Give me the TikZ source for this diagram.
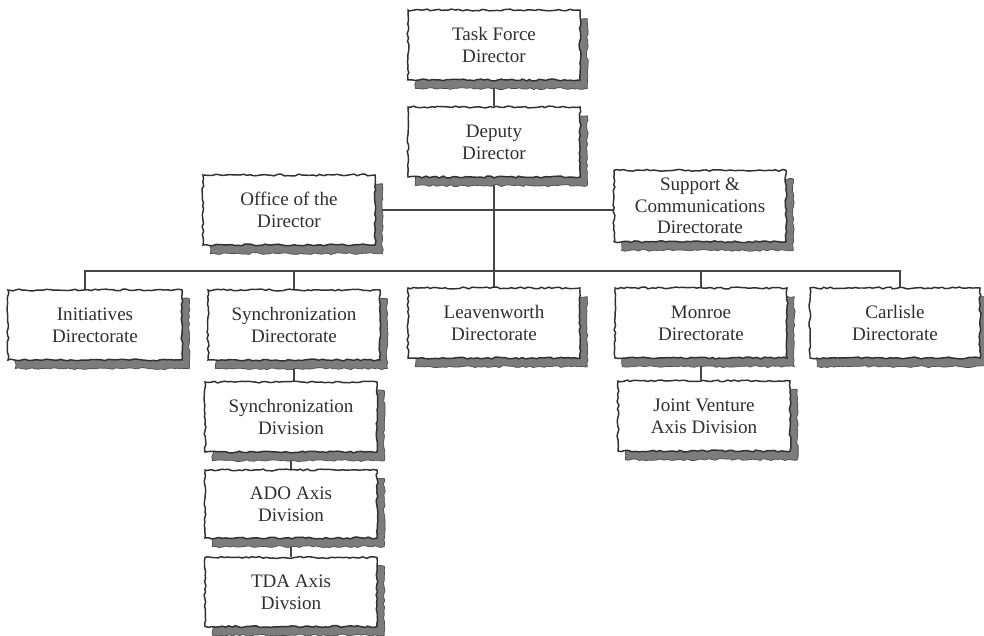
\documentclass[tikz,border=0pt]{standalone}
\usepackage{fontspec}
\setmainfont{Liberation Serif}
\usetikzlibrary{decorations.pathmorphing}
\definecolor{shgray}{HTML}{7C7C7C}
\definecolor{shdark}{HTML}{4A4A4A}
\definecolor{ink}{HTML}{303030}
\pgfdeclarelayer{paper}
\pgfdeclarelayer{bg}
\pgfsetlayers{paper,bg,main}
\begin{document}
\begin{tikzpicture}[x=0.75pt,y=-0.75pt,
  rough/.style={decorate,decoration={random steps,segment length=2.6pt,amplitude=0.7pt}},
  orgbox/.style={rough, draw=ink, line width=1.1pt, fill=white, align=center,
    inner sep=0pt, minimum width=129pt, minimum height=52.5pt, text=ink,
    font=\fontsize{14.3}{16.3}\selectfont,
    preaction={draw=shdark, fill=shgray, line width=0.5pt,
      transform canvas={shift={(5.5pt,-6.5pt)}}}},
  link/.style={draw=ink!90, line width=0.85pt}]
\pgfmathsetseed{7}
\useasboundingbox (0,0) rectangle (984,635);
\begin{pgfonlayer}{paper}
\fill[white] (0,0) rectangle (984,635);
\end{pgfonlayer}

\node[orgbox] (tf) at (494,45) {Task Force\\Director};
\node[orgbox] (dd) at (494,142) {Deputy\\Director};
\node[orgbox] (off) at (289,210) {Office of the\\Director};
\node[orgbox, minimum height=53.5pt] (sup) at (700,206) {Support \&\\Communications\\Directorate};
\node[orgbox, minimum width=130.5pt] (init) at (95,325) {Initiatives\\Directorate};
\node[orgbox] (syncd) at (294,325) {Synchronization\\Directorate};
\node[orgbox] (leav) at (494,323) {Leavenworth\\Directorate};
\node[orgbox] (mon) at (701,323) {Monroe\\Directorate};
\node[orgbox, minimum width=127.5pt] (carl) at (895,323) {Carlisle\\Directorate};
\node[orgbox] (sdiv) at (291,417) {Synchronization\\Division};
\node[orgbox] (jv) at (704,416) {Joint Venture\\Axis Division};
\node[orgbox, minimum height=51pt] (ado) at (291,504) {ADO Axis\\Division};
\node[orgbox, minimum height=51.75pt] (tda) at (291,592) {TDA Axis\\Divsion};

\begin{pgfonlayer}{bg}
\coordinate (bus) at (494,271);
\draw[link] (tf.south) -- (dd.north);
\draw[link] (dd.south) -- (leav.north);
\draw[link] (off.east) -- (off.east -| sup.west);
\draw[link] ([xshift=-7.5pt]init.north) |- (bus) -| ([xshift=3.75pt]carl.north);
\draw[link] (syncd.north) -- (syncd.north |- bus);
\draw[link] (mon.north) -- (mon.north |- bus);
\draw[link] (syncd.south) -- (syncd.south |- sdiv.north);
\draw[link] (sdiv.south) -- (ado.north);
\draw[link] (ado.south) -- (tda.north);
\draw[link] (mon.south) -- (mon.south |- jv.north);
\end{pgfonlayer}
\end{tikzpicture}
\end{document}
